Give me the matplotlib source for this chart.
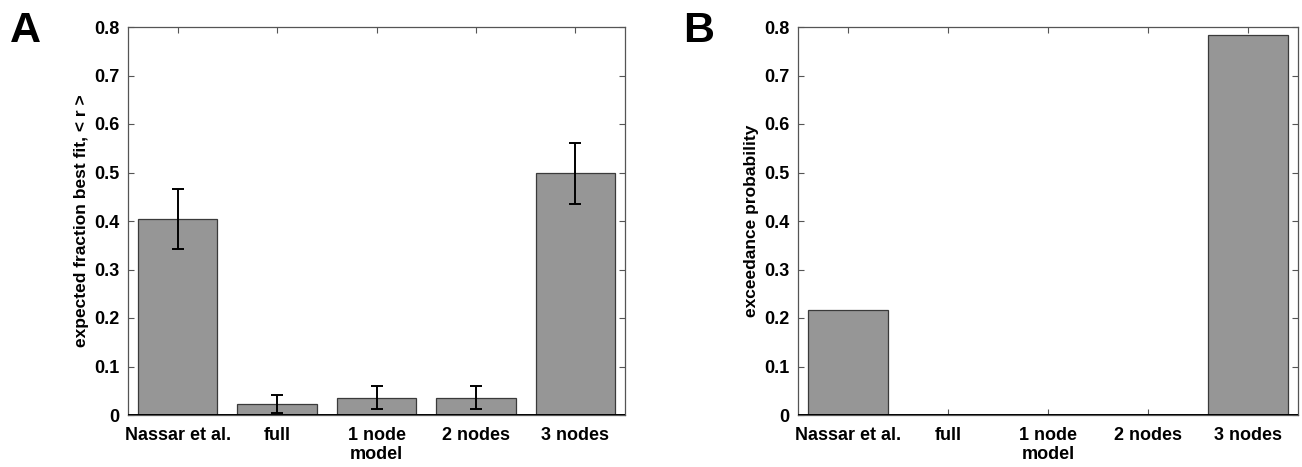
import matplotlib
matplotlib.use("Agg")
import matplotlib.pyplot as plt
import numpy as np

plt.rcParams['font.family'] = ['Liberation Sans', 'DejaVu Sans']

categories = ["Nassar et al.", "full", "1 node", "2 nodes", "3 nodes"]
frac_mean = [0.405, 0.023, 0.036, 0.036, 0.498]
frac_low = [0.343, 0.004, 0.013, 0.013, 0.435]
frac_high = [0.466, 0.042, 0.060, 0.060, 0.561]
exceed_prob = [0.217, 0.0, 0.0, 0.0, 0.783]
yticks = [0, 0.1, 0.2, 0.3, 0.4, 0.5, 0.6, 0.7, 0.8]
ytick_labels = ["0", "0.1", "0.2", "0.3", "0.4", "0.5", "0.6", "0.7", "0.8"]

W, H = 1302, 467
fig = plt.figure(figsize=(W / 100, H / 100), dpi=100)

def make_ax(left, right, top, bottom):
    return fig.add_axes([left / W, 1 - bottom / H, (right - left) / W, (bottom - top) / H])

axA = make_ax(128, 625, 27, 415)
axB = make_ax(798, 1298, 27, 415)

x = np.arange(1, len(categories) + 1)
bar_color = "#969696"
edge = "#3a3a3a"

def style(ax, ylabel):
    ax.set_xlim(0.5, 5.5)
    ax.set_ylim(0, 0.8)
    ax.set_yticks(yticks)
    ax.set_yticklabels(ytick_labels, fontsize=13, fontweight="bold")
    ax.set_xticks(x)
    ax.set_xticklabels(categories, fontsize=13, fontweight="bold")
    ax.tick_params(direction="in", length=4, width=0.8, color="#555555",
                   top=True, right=True)
    ax.tick_params(axis="y", pad=6)
    ax.tick_params(axis="x", pad=9)
    for s in ax.spines.values():
        s.set_color("#555555")
        s.set_linewidth(0.9)
    ax.set_xlabel("model", fontsize=13, fontweight="bold", labelpad=1)
    ax.set_ylabel(ylabel, fontsize=12.5, fontweight="bold", labelpad=4)
    ax.axhline(0, color="black", lw=1.4, zorder=5)

axA.bar(x, frac_mean, width=0.8, color=bar_color, edgecolor=edge, linewidth=0.9, zorder=2)
err = np.array([np.array(frac_mean) - np.array(frac_low), np.array(frac_high) - np.array(frac_mean)])
axA.errorbar(x, frac_mean, yerr=err, fmt="none", ecolor="black", elinewidth=1.4,
             capsize=4, capthick=1.4, zorder=3)
style(axA, "expected fraction best fit, < r >")

axB.bar(x, exceed_prob, width=0.8, color=bar_color, edgecolor=edge, linewidth=0.9, zorder=2)
style(axB, "exceedance probability")

fig.text(10 / W, 1 - 42 / H, "A", fontsize=31, fontweight="bold", ha="left", va="baseline")
fig.text(683 / W, 1 - 42 / H, "B", fontsize=31, fontweight="bold", ha="left", va="baseline")

fig.savefig("out.png", dpi=100, facecolor="white")
